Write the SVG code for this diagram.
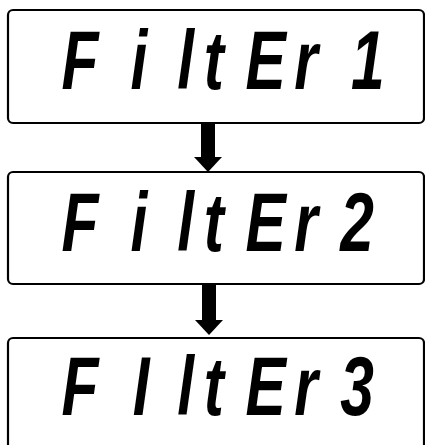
<svg xmlns="http://www.w3.org/2000/svg" width="425" height="445" viewBox="0 0 425 445">
<style>
.box{fill:#fff;stroke:#000;stroke-width:2.2}
.seg{font-family:"Liberation Sans",Arial,sans-serif;font-style:italic;font-weight:bold;font-size:84px;fill:#000;text-anchor:middle}
.conn{stroke:#000;stroke-width:14;fill:none}
</style>
<defs>
<marker id="head" markerUnits="userSpaceOnUse" viewBox="0 0 15 28" refX="0" refY="14" markerWidth="15" markerHeight="28" orient="auto">
<path d="M0,0 L15,14 L0,28 z" fill="#000"/>
</marker>
</defs>
<rect width="425" height="445" fill="#fff"/>
<g id="connectors">
<line class="conn" x1="208" y1="123" x2="208" y2="157" marker-end="url(#head)"/>
<line class="conn" x1="209" y1="285" x2="209" y2="320" marker-end="url(#head)"/>
</g>
<g id="filter1">
<rect class="box" x="8" y="10" width="416" height="113" rx="5"/>
<text class="seg" transform="scale(0.72,1)" x="111 193 258 297 369 425 511" y="89">FiltEr1</text>
</g>
<g id="filter2">
<rect class="box" x="8" y="172" width="416" height="112" rx="5"/>
<text class="seg" transform="scale(0.72,1)" x="111 193 258 297 369 425 496" y="251">FiltEr2</text>
</g>
<g id="filter3">
<rect class="box" x="8" y="338" width="416" height="120" rx="5"/>
<text class="seg" transform="scale(0.72,1)" x="111 196 258 297 369 425 496" y="415">FIltEr3</text>
</g>
</svg>
